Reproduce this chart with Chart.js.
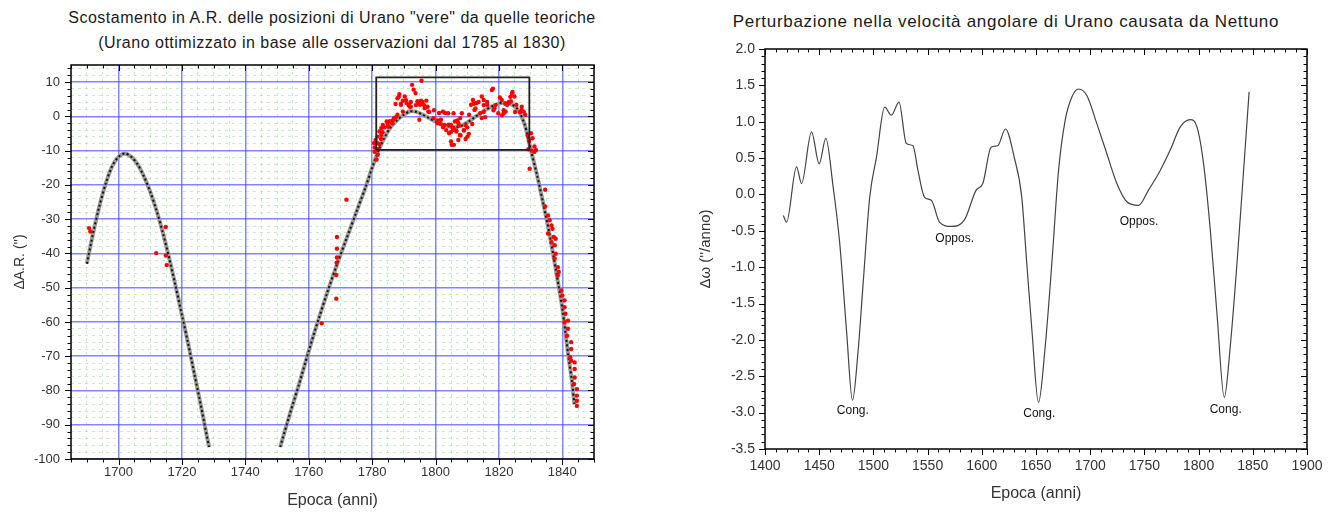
<!DOCTYPE html>
<html>
<head>
<meta charset="utf-8">
<script src="https://cdn.jsdelivr.net/npm/chart.js@4.4.1/dist/chart.umd.min.js"></script>
<style>
  body { margin: 0; background: #fff; font-family: 'Liberation Sans', Arial, sans-serif; }
  canvas { position: absolute; top: 0; }
  #left { left: 0; }
  #right { left: 665px; }
  .title { position: absolute; width: 700px; text-align: center; color: #1a1a1a; white-space: nowrap; line-height: 1; }
  #t1 { left: -18px; top: 10px; font-size: 16px; letter-spacing: 0.5px; }
  #t2 { left: -18px; top: 35px; font-size: 16px; letter-spacing: 0.5px; }
  #t3 { left: 656px; top: 13px; font-size: 17px; letter-spacing: 0.7px; }
</style>
</head>
<body>
<div class="title" id="t1">Scostamento in A.R. delle posizioni di Urano "vere" da quelle teoriche</div>
<div class="title" id="t2">(Urano ottimizzato in base alle osservazioni dal 1785 al 1830)</div>
<div class="title" id="t3">Perturbazione nella velocità angolare di Urano causata da Nettuno</div>
<canvas id="left" width="665" height="513"></canvas>
<canvas id="right" width="668" height="513"></canvas>
<script>
// --- pannello sinistro: scostamento in A.R. ---
// curva teorica (anno, valore); null = interruzione sotto -100
const curveYears = [1690, 1692, 1694, 1696, 1698, 1700, 1702, 1704, 1706, 1708, 1710, 1712, 1714, 1716, 1718, 1720, 1722, 1724, 1726, 1728, 1728.6,
    1740,
    1751, 1754, 1757, 1760, 1763, 1766, 1769, 1772, 1775, 1778, 1780, 1782, 1784, 1786, 1788, 1790, 1792, 1794, 1796, 1798, 1800,
    1802, 1804, 1806, 1808, 1810, 1812, 1814, 1816, 1818, 1820, 1822, 1824, 1826, 1828, 1829, 1830, 1832, 1834, 1836, 1838, 1840,
    1842, 1843, 1843.8];
const curveValues = [-43, -34, -26, -19.5, -14.5, -11.8, -10.8, -11.8, -14, -17.5, -22, -27.5, -34, -41.5, -49.5, -58, -66.5, -75.5, -84.5, -94, -96.5,
    null,
    -96.5, -87, -78, -68.5, -59.5, -51, -43, -35.5, -28, -20.5, -15, -10, -6, -3, -1, 0.5, 1.5, 1.3, 0.5, -0.5, -1.5,
    -2.3, -2.9, -3.2, -2.8, -1.8, -0.5, 0.8, 2, 3, 3.8, 4, 3.5, 2, -2, -5.5, -9.5, -17, -25.5, -34.5, -45, -56,
    -70.5, -77, -84];

// osservazioni (anno, scostamento in ")
const observedPoints = [
    [1690.7, -32.6], [1691.1, -33.6], [1711.9, -39.9], [1714.9, -32.3], [1714.9, -40.6], [1715.2, -43.4],
    [1764.1, -60.4], [1768.7, -53.2], [1768.7, -46.3], [1768.8, -42.7], [1768.9, -41.2], [1768.9, -38.6], [1768.9, -35.2],
    [1771.9, -24.3], [1781.4, -12.6], [1781.8, -11.2],
    [1780.6, -7.8], [1780.8, -9.1], [1780.8, -10.3], [1781.1, -6.9], [1781.7, -5.9], [1781.7, -7.8], [1781.8, -9.6],
    [1782.3, -4.4], [1782.3, -8.1], [1782.8, -6.6], [1782.9, -3.4], [1782.9, -5.4], [1783.3, -4.6], [1783.4, -2.5],
    [1783.9, -3.2], [1784.6, -1.5], [1784.9, -2.2], [1785.1, -3.0], [1785.6, -1.4], [1786.3, -2.0], [1786.5, -1.2],
    [1786.9, -0.5], [1787.5, -0.2], [1788.0, 0.5], [1787.4, 3.6], [1788.0, 5.3], [1788.4, 5.7], [1788.6, 6.5],
    [1789.1, 3.4], [1789.1, 3.7], [1789.7, 4.6], [1789.7, 1.4], [1790.3, 5.8], [1790.7, 4.7], [1790.9, 3.9],
    [1791.5, 3.3], [1791.8, 2.9], [1792.2, 4.2], [1792.2, 2.8], [1792.6, 9.2], [1793.1, 7.8], [1793.7, 6.8],
    [1793.8, 3.3], [1794.3, 4.4], [1794.6, 3.9], [1794.9, -1.0], [1795.1, 3.4], [1795.4, 4.6], [1795.6, 10.4],
    [1795.9, 4.2], [1796.4, 3.3], [1796.6, 2.4], [1797.1, 4.6], [1797.5, 2.8], [1797.7, 1.4], [1798.0, 1.3],
    [1799.4, -0.5], [1799.5, 1.8], [1800.6, -2.0], [1800.6, -1.2], [1801.1, 1.0], [1801.6, -2.2], [1801.7, -1.0],
    [1802.3, 1.4], [1802.4, -3.2], [1802.9, -2.5], [1803.0, 1.0], [1803.4, -4.0], [1804.0, 0.9], [1804.2, -2.4],
    [1804.3, -4.9], [1804.8, -4.6], [1804.9, -2.5], [1804.9, -7.3], [1805.1, -8.3], [1805.3, -3.2], [1805.5, -4.0],
    [1805.7, 0.9], [1805.7, -3.4], [1805.8, -8.3], [1806.1, -1.5], [1806.5, -4.1], [1806.6, -4.4], [1806.9, -1.2],
    [1807.2, -2.0], [1807.2, -6.9], [1807.4, -2.7], [1807.7, -5.4], [1807.8, -0.5], [1807.9, -5.6], [1808.3, 0.9],
    [1808.9, -4.0], [1809.0, -4.1], [1809.5, -2.5], [1809.5, -6.6], [1810.0, -3.2], [1810.1, -5.9], [1810.5, -5.1],
    [1810.6, 0.5], [1811.2, 3.4], [1811.6, -2.2], [1811.8, 4.8], [1812.1, 3.7], [1812.3, 1.9], [1812.6, 2.3],
    [1812.9, 3.9], [1813.6, 4.2], [1814.1, 0.9], [1814.6, 5.8], [1814.6, -0.5], [1815.2, 4.8], [1815.2, 1.3],
    [1815.2, 3.3], [1815.7, -0.2], [1816.3, 3.4], [1816.3, 4.2], [1817.8, 7.7], [1818.1, 8.1], [1818.3, 1.8],
    [1818.6, 2.4], [1818.9, 3.3], [1819.8, 0.9], [1820.3, 5.5], [1820.9, 4.8], [1821.0, 0.3], [1821.5, 0.9],
    [1821.5, 1.8], [1822.0, 3.7], [1822.1, 1.4], [1822.6, 3.4], [1823.1, 4.2], [1823.6, 5.7], [1823.8, 4.4],
    [1824.1, 6.7], [1824.3, 7.1], [1824.9, 5.8], [1825.1, 1.3], [1825.5, 3.4], [1826.7, 1.3], [1827.2, 1.9],
    [1827.2, 2.8], [1827.8, 1.4], [1828.3, 0.5], [1829.1, -5.6], [1829.5, -7.1], [1829.3, -9.6], [1830.1, -4.9],
    [1830.4, -10.0], [1830.6, -6.4], [1831.2, -8.8], [1831.7, -9.8], [1831.2, -10.3],
    [1829.7, -15.3], [1834.6, -21.4], [1834.6, -26.3],
    [1835.5, -28.9], [1836.0, -30.3], [1836.6, -31.8], [1836.9, -32.8], [1835.5, -34.2], [1837.3, -35.2], [1837.9, -35.7],
    [1836.6, -36.7], [1837.6, -37.6], [1837.9, -40.1], [1837.6, -41.5], [1838.6, -44.0], [1838.9, -45.4], [1838.6, -46.4],
    [1839.7, -50.8], [1840.0, -52.3], [1840.7, -53.7], [1840.7, -55.7], [1841.0, -57.6], [1840.7, -60.1], [1841.8, -59.6],
    [1841.8, -62.0], [1841.5, -64.0], [1842.8, -65.9], [1842.8, -67.9], [1842.5, -70.3], [1842.8, -71.3], [1843.9, -71.8],
    [1843.9, -73.7], [1843.9, -76.2], [1843.7, -78.1], [1844.6, -79.6], [1844.6, -81.5], [1844.6, -83.0], [1844.6, -84.5]
];

// riquadro del periodo di ottimizzazione
const fitBoxYears = [1781.3, 1781.3, 1829.6, 1829.6, 1781.3];
const fitBoxValues = [-9.8, 11.4, 11.4, -9.8, -9.8];

// --- pannello destro: perturbazione della velocità angolare ---
const perturbYears = [1416.9, 1419.9, 1429.1, 1433.7, 1442.9, 1450.0, 1456.1, 1462.9, 1469.0, 1475.2, 1480.7, 1485.9,
    1490.5, 1496.6, 1502.8, 1510.4, 1516.6, 1523.6, 1530.4, 1536.5, 1541.1, 1547.2, 1553.4, 1561.0, 1571.8, 1584.0,
    1594.8, 1600.9, 1608.6, 1614.7, 1621.8, 1630.1, 1636.8, 1641.5, 1646.2, 1652.3, 1658.5, 1664.6, 1670.8, 1676.9,
    1683.1, 1689.2, 1696.9, 1706.2, 1715.4, 1724.6, 1733.8, 1744.6, 1753.8, 1764.6, 1773.8, 1783.1, 1792.3, 1798.5,
    1804.6, 1810.8, 1816.9, 1823.7, 1829.2, 1835.4, 1841.5, 1846.6];
const perturbValues = [-0.29, -0.38, 0.38, 0.15, 0.86, 0.42, 0.77, 0.10, -0.68, -1.87, -2.83, -2.15,
    -1.23, -0.04, 0.51, 1.20, 1.09, 1.27, 0.70, 0.67, 0.33, -0.04, -0.08, -0.38, -0.44, -0.35,
    0.06, 0.15, 0.65, 0.67, 0.90, 0.50, -0.03, -0.95, -1.86, -2.86, -2.09, -0.95, 0.33, 1.02,
    1.34, 1.45, 1.36, 0.97, 0.56, 0.15, -0.10, -0.15, 0.06, 0.33, 0.61, 0.93, 1.03, 0.93,
    0.42, -0.49, -1.63, -2.79, -2.09, -0.95, 0.33, 1.41];

const noteLabels = ['Cong.', 'Oppos.', 'Cong.', 'Oppos.', 'Cong.'];
const noteYears = [1481, 1575, 1653, 1745, 1825];
const noteValues = [-2.98, -0.61, -3.02, -0.38, -2.96];

Chart.defaults.font.family = "'Liberation Sans', Arial, sans-serif";
Chart.defaults.color = '#222';

const xy = (xs, ys) => xs.map((x, i) => ({x: x, y: ys[i]}));

// cornice e tacche (esterne a sinistra/sotto, interne sopra/destra)
function frameTicks(xMajor, yMajor) {
    return {
        id: 'frameTicks',
        afterDatasetsDraw(chart) {
            const {ctx, chartArea: a, scales: {x, y}} = chart;
            ctx.save();
            ctx.strokeStyle = '#000';
            ctx.lineWidth = 1;
            ctx.beginPath();
            x.ticks.forEach(t => {
                const px = Math.round(x.getPixelForValue(t.value)) + 0.5;
                const len = xMajor(t.value) ? 6 : 3.5;
                ctx.moveTo(px, a.bottom); ctx.lineTo(px, a.bottom + len);
                ctx.moveTo(px, a.top); ctx.lineTo(px, a.top + len);
            });
            y.ticks.forEach(t => {
                const py = Math.round(y.getPixelForValue(t.value)) + 0.5;
                const len = yMajor(t.value) ? 6 : 3.5;
                ctx.moveTo(a.left - len, py); ctx.lineTo(a.left, py);
                ctx.moveTo(a.right - len, py); ctx.lineTo(a.right, py);
            });
            ctx.stroke();
            ctx.lineWidth = 1.5;
            ctx.strokeRect(a.left, a.top, a.right - a.left, a.bottom - a.top);
            ctx.restore();
        }
    };
}

const isX20 = v => Math.round(v) % 20 === 0;
const isY10 = v => Math.round(v) % 10 === 0;
const blueGrid = 'rgba(80,80,255,0.7)';
const greenGrid = 'rgba(100,220,100,0.4)';

new Chart(document.getElementById('left'), {
    type: 'scatter',
    data: {
        datasets: [{
            data: xy(fitBoxYears, fitBoxValues),
            showLine: true,
            borderColor: '#222',
            borderWidth: 1.8,
            pointRadius: 0,
            order: 0
        }, {
            data: observedPoints.map(p => ({x: p[0], y: p[1]})),
            backgroundColor: '#ff0000',
            borderWidth: 0,
            pointRadius: 2.2,
            order: 1
        }, {
            data: xy(curveYears, curveValues),
            showLine: true,
            spanGaps: false,
            borderColor: '#111',
            borderWidth: 2,
            borderDash: [2, 2.5],
            tension: 0.3,
            pointRadius: 0,
            order: 2
        }, {
            data: xy(curveYears, curveValues),
            showLine: true,
            spanGaps: false,
            borderColor: '#9a9a9a',
            borderWidth: 4,
            tension: 0.3,
            pointRadius: 0,
            order: 3
        }]
    },
    options: {
        responsive: false,
        animation: false,
        devicePixelRatio: 1,
        layout: {padding: {left: 0, right: 71, top: 65, bottom: 0}},
        plugins: {
            legend: {display: false},
            tooltip: {enabled: false},
            title: {display: false}
        },
        scales: {
            x: {
                type: 'linear',
                min: 1685,
                max: 1850,
                afterFit: s => { s.height = 54; },
                ticks: {
                    stepSize: 5,
                    autoSkip: false,
                    includeBounds: false,
                    maxRotation: 0,
                    padding: 6,
                    font: {size: 13},
                    color: '#333',
                    callback: v => (isX20(v) && v >= 1700) ? String(v) : ''
                },
                grid: {
                    drawTicks: false,
                    color: c => (c.tick && isX20(c.tick.value)) ? blueGrid : greenGrid,
                    lineWidth: c => (c.tick && isX20(c.tick.value)) ? 1.5 : 1
                },
                border: {display: false, dash: c => (c.tick && isX20(c.tick.value)) ? [] : [3, 4]},
                title: {display: true, text: 'Epoca (anni)', font: {size: 16}, color: '#333', padding: {top: 0, bottom: 3}}
            },
            y: {
                min: -100,
                max: 15,
                afterFit: s => { s.width = 71; },
                ticks: {
                    stepSize: 2,
                    autoSkip: false,
                    includeBounds: false,
                    padding: 11,
                    font: {size: 13},
                    color: '#333',
                    callback: v => isY10(v) ? String(v) : ''
                },
                grid: {
                    drawTicks: false,
                    color: c => (c.tick && isY10(c.tick.value)) ? blueGrid : greenGrid,
                    lineWidth: c => (c.tick && isY10(c.tick.value)) ? 1.5 : 1
                },
                border: {display: false, dash: c => (c.tick && isY10(c.tick.value)) ? [] : [3, 4]},
                title: {display: true, text: "ΔA.R. ('')", font: {size: 14}, color: '#333', padding: {top: 12, bottom: 0}}
            }
        }
    },
    plugins: [frameTicks(isX20, isY10)]
});

// etichette Cong./Oppos. nel pannello destro
const notes = {
    id: 'notes',
    afterDatasetsDraw(chart) {
        const {ctx, scales: {x, y}} = chart;
        ctx.save();
        ctx.font = "12px 'Liberation Sans', Arial, sans-serif";
        ctx.fillStyle = '#111';
        ctx.textAlign = 'center';
        ctx.textBaseline = 'middle';
        noteLabels.forEach((txt, i) => {
            ctx.fillText(txt, x.getPixelForValue(noteYears[i]), y.getPixelForValue(noteValues[i]));
        });
        ctx.restore();
    }
};

const isX50 = v => Math.round(v) % 50 === 0;
const isHalf = v => Math.round(v * 10) % 5 === 0;

new Chart(document.getElementById('right'), {
    type: 'scatter',
    data: {
        datasets: [{
            data: xy(perturbYears, perturbValues),
            showLine: true,
            borderColor: '#444',
            borderWidth: 1.2,
            cubicInterpolationMode: 'monotone',
            pointRadius: 0
        }]
    },
    options: {
        responsive: false,
        animation: false,
        devicePixelRatio: 1,
        layout: {padding: {left: 14, right: 26, top: 49, bottom: 0}},
        plugins: {
            legend: {display: false},
            tooltip: {enabled: false},
            title: {display: false}
        },
        scales: {
            x: {
                type: 'linear',
                min: 1400,
                max: 1900,
                afterFit: s => { s.height = 64; },
                ticks: {
                    stepSize: 10,
                    autoSkip: false,
                    maxRotation: 0,
                    padding: 9,
                    font: {size: 14},
                    color: '#333',
                    callback: v => isX50(v) ? String(v) : ''
                },
                grid: {display: false, drawTicks: false},
                border: {display: false},
                title: {display: true, text: 'Epoca (anni)', font: {size: 16}, color: '#333', padding: {top: 0, bottom: 10}}
            },
            y: {
                min: -3.5,
                max: 2.0,
                afterFit: s => { s.width = 86; },
                ticks: {
                    stepSize: 0.1,
                    autoSkip: false,
                    padding: 10,
                    font: {size: 14},
                    color: '#333',
                    callback: v => isHalf(v) ? (Math.round(v * 10) / 10).toFixed(1) : ''
                },
                grid: {display: false, drawTicks: false},
                border: {display: false},
                title: {display: true, text: "Δω (''/anno)", font: {size: 15}, color: '#333', padding: {top: 18, bottom: 0}}
            }
        }
    },
    plugins: [notes, frameTicks(isX50, isHalf)]
});
</script>
</body>
</html>
